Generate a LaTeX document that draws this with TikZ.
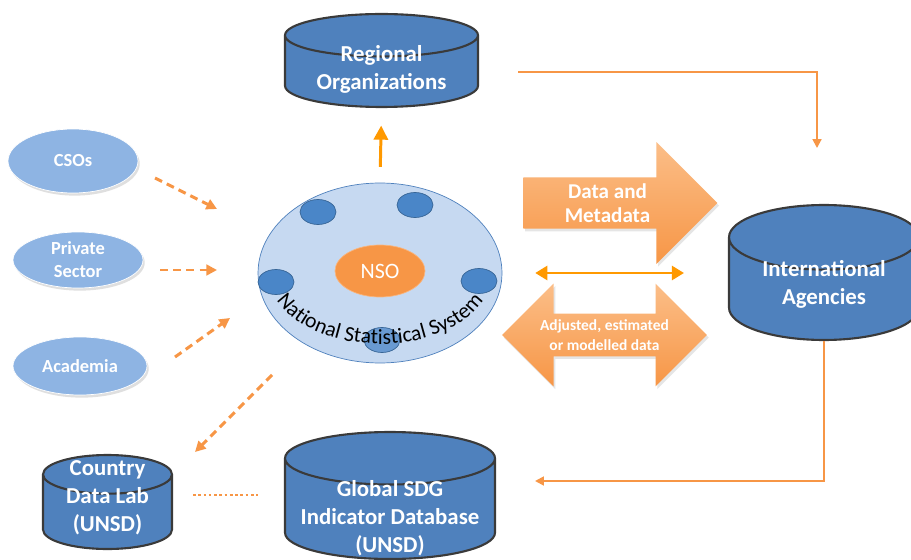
\documentclass[tikz,border=0pt]{standalone}
\usepackage{fontspec}
\setmainfont{Carlito}
\usetikzlibrary{shapes.geometric,shapes.arrows,arrows.meta,decorations.text,shadows,positioning}
\definecolor{dbblue}{HTML}{4F81BD}
\definecolor{dbedge}{HTML}{3A3A3A}
\definecolor{srcblue}{HTML}{8EB4E3}
\definecolor{nssfill}{HTML}{C6D9F1}
\definecolor{memblue}{HTML}{4A86C8}
\definecolor{accent}{HTML}{F79646}
\definecolor{accentlight}{HTML}{FBBE88}
\definecolor{brightorange}{HTML}{FF9900}
\tikzset{
  db/.style={ % image of a database cylinder
    cylinder, shape border rotate=90, draw=dbedge, line width=1.2pt,
    fill=dbblue, inner sep=0pt, align=center, anchor=shape center
  },
  dbtext/.style={ % caption written on a database
    text=white, align=center, inner sep=0pt,
    font=\fontsize{13}{16}\selectfont\bfseries
  },
  source/.style={ % image of an outside data source
    ellipse, fill=srcblue, draw=white, text=white, align=center,
    inner sep=0pt, font=\fontsize{10.5}{13}\selectfont\bfseries,
    drop shadow={opacity=.25, shadow xshift=1pt, shadow yshift=-1.5pt}
  },
  member/.style={ % image of a member of the statistical system
    ellipse, fill=memblue, draw=memblue!75!black, thin,
    minimum width=0.72cm, minimum height=0.5cm, inner sep=0pt
  },
  bigarrow/.style={ % image of a shaded block arrow
    top color=accentlight, bottom color=accent, text=white,
    align=center, inner sep=1pt,
    drop shadow={opacity=.2, shadow xshift=1pt, shadow yshift=-1.5pt}
  },
  flow/.style={accent, line width=1.1pt, -{Triangle[length=5pt,width=5pt]}},
  dflow/.style={accent, line width=1.7pt, dash pattern=on 4.5pt off 3pt,
    -{Triangle[length=6pt,width=6pt]}},
  link/.style={brightorange, line width=1.7pt}
}

\begin{document}
\begin{tikzpicture}[x=0.02cm, y=-0.02cm]
  \path[use as bounding box, fill=white] (0,0) rectangle (911,560);

  % databases
  \node[db, text width=3.86cm, minimum height=1.86cm, aspect=0.22] (reg) at (381.5,60.5) {};
  \node[db, text width=3.8cm, minimum height=2.7cm, aspect=0.34] (intl) at (824,272.5) {};
  \node[db, text width=2.58cm, minimum height=1.88cm, aspect=0.3] (lab) at (107.5,502) {};
  \node[db, text width=4.2cm, minimum height=2.54cm, aspect=0.25] (sdg) at (390,495.5) {};
  \node[dbtext] (reg_text) at (381.5,69) {Regional\\Organizations};
  \node[dbtext] (intl_text) at (824,284) {International\\Agencies};
  \node[dbtext] (lab_text) at (107.5,498) {Country\\Data Lab\\(UNSD)};
  \node[dbtext] (sdg_text) at (390,518) {Global SDG\\Indicator Database\\(UNSD)};

  % outside sources
  \node[source, minimum width=2.6cm, minimum height=1.28cm] (cso) at (73,161) {CSOs};
  \node[source, minimum width=2.6cm, minimum height=1.12cm] (priv) at (78,260) {Private\\Sector};
  \node[source, minimum width=2.68cm, minimum height=1.16cm] (acad) at (80,366) {Academia};

  % national statistical system
  \node[ellipse, fill=nssfill, draw=dbblue, minimum width=4.88cm, minimum height=3.6cm] (nss) at (380,273) {};
  \node[member] (m1) at (318,212) {};
  \node[member] (m2) at (415,205) {};
  \node[member] (m3) at (276,282) {};
  \node[member] (m4) at (479,281) {};
  \node[member, fill opacity=.75] (m5) at (382,340) {};
  \path[decorate, decoration={text along path, text align=center,
      text={|\fontsize{12.3}{14}\selectfont|National Statistical System}}]
    (nss.center) ++(163:112 and 71) arc[start angle=163, end angle=17, x radius=112, y radius=71];
  \node[ellipse, fill=accent, draw=accent!70!white, text=white, minimum width=1.8cm, minimum height=1.04cm,
    inner sep=0pt, font=\fontsize{12.5}{15}\selectfont] (nso) at (380,271) {NSO};

  % block arrows
  \node[bigarrow, single arrow, single arrow tip angle=90, single arrow head extend=0.6cm,
    minimum height=3.88cm, minimum width=2.44cm, anchor=tail,
    font=\fontsize{12}{14}\selectfont\bfseries] (meta) at (523,203) {Data and\\Metadata};
  \node[bigarrow, double arrow, double arrow tip angle=90, double arrow head extend=0.49cm,
    minimum height=4.1cm, minimum width=2.06cm,
    font=\fontsize{8.8}{11}\selectfont\bfseries] (adj) at (604.5,335) {Adjusted, estimated\\or modelled data};

  % free ends of the connectors
  \coordinate (reg_out) at (518,72);
  \coordinate (intl_in) at (817,148);
  \coordinate (sdg_in) at (535,481);
  \coordinate (cso_out) at (155,178);
  \coordinate (cso_in) at (217,209);
  \coordinate (priv_out) at (160,270);
  \coordinate (priv_in) at (217,270);
  \coordinate (acad_out) at (175,357);
  \coordinate (acad_in) at (230,318);
  \coordinate (lab_out) at (272,375);
  \coordinate (lab_in) at (195,452);
  \coordinate (lab_r) at (193,495);
  \coordinate (sdg_l) at (258,495);

  % connectors
  \draw[link, -{Triangle[length=8pt,width=8pt]}, shorten <=9pt, shorten >=10pt] (nss.north) -- (reg.south);
  \draw[link, {Triangle[length=7pt,width=8pt]}-{Triangle[length=7pt,width=8pt]},
    shorten <=18.7pt, shorten >=25pt] (nss.east) -- (nss.east -| intl.west);
  \draw[flow] (reg_out) -| (intl_in);
  \draw[flow] (intl.south) |- (sdg_in);
  \draw[dflow] (cso_out) -- (cso_in);
  \draw[dflow] (priv_out) -- (priv_in);
  \draw[dflow] (acad_out) -- (acad_in);
  \draw[dflow] (lab_out) -- (lab_in);
  \draw[accent, line width=1.5pt, dash pattern=on 1.5pt off 1.5pt] (lab_r) -- (sdg_l);
\end{tikzpicture}
\end{document}
